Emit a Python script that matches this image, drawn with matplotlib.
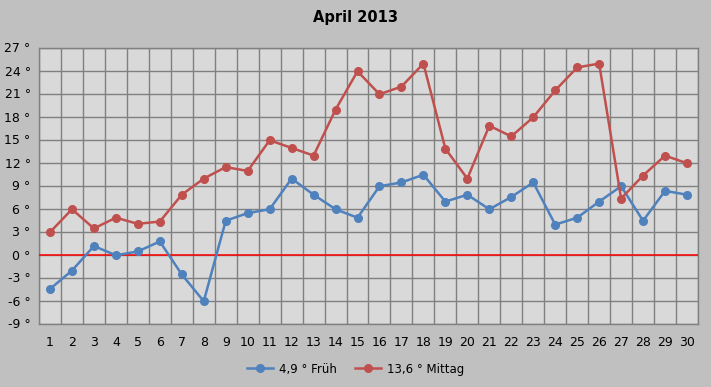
import matplotlib.pyplot as plt
import numpy as np

days = list(range(1, 31))
frueh = [-4.5, -2.1, 1.1, -0.1, 0.4, 1.7, -2.6, -6.1, 4.4, 5.4,
         5.9, 9.9, 7.8, 5.9, 4.8, 8.9, 9.4, 10.4, 6.9, 7.8,
         5.9, 7.5, 9.4, 3.9, 4.8, 6.9, 8.9, 4.4, 8.3, 7.8]
mittag = [2.9, 5.9, 3.4, 4.8, 4.0, 4.3, 7.8, 9.9, 11.4, 10.9,
          14.9, 13.9, 12.9, 18.9, 23.9, 20.9, 21.9, 24.9, 13.8, 9.9,
          16.8, 15.4, 17.9, 21.4, 24.4, 24.9, 7.3, 10.3, 12.9, 11.9]
yticks = list(range(-9, 28, 3))
labels = ['4,9 ° Früh', '13,6 ° Mittag']

fig = plt.figure(figsize=(7.11, 3.87), dpi=100, facecolor='#c0c0c0')
ax = fig.add_axes([39/711, 1 - 323.5/387, 659/711, 276/387])
ax.set_facecolor('#d9d9d9')

ax.plot(days, frueh, color='#4f81bd', lw=1.8, marker='o', ms=5.5, label=labels[0], zorder=4)
ax.plot(days, mittag, color='#c0504d', lw=1.8, marker='o', ms=5.5, label=labels[1], zorder=4)
ax.axhline(0, color='#ff0000', lw=1.1, zorder=3)

ax.set_xlim(0.5, 30.5)
ax.set_ylim(-9, 27)
ax.set_yticks(yticks)
ax.set_yticklabels([f'{v} °' for v in yticks])
ax.set_xticks(days)
ax.set_xticks(np.arange(0.5, 31, 1), minor=True)
ax.grid(False)
ax.grid(True, which='minor', axis='x', color='#808080', lw=1.0)
ax.grid(True, which='major', axis='y', color='#808080', lw=1.0)
ax.tick_params(which='both', length=0)
ax.tick_params(axis='x', pad=9, labelsize=9)
ax.tick_params(axis='y', pad=6, labelsize=9)
for s in ax.spines.values():
    s.set_color('#808080')
    s.set_linewidth(1.0)

fig.suptitle('April 2013', y=0.975, fontsize=10.5, fontweight='bold')
fig.legend(loc='center', bbox_to_anchor=(0.5, 1 - 369/387), ncol=2, frameon=False,
           fontsize=8.5, handlelength=2.2, handletextpad=0.5, columnspacing=1.5)

fig.savefig('out.png', dpi=100, facecolor=fig.get_facecolor())
